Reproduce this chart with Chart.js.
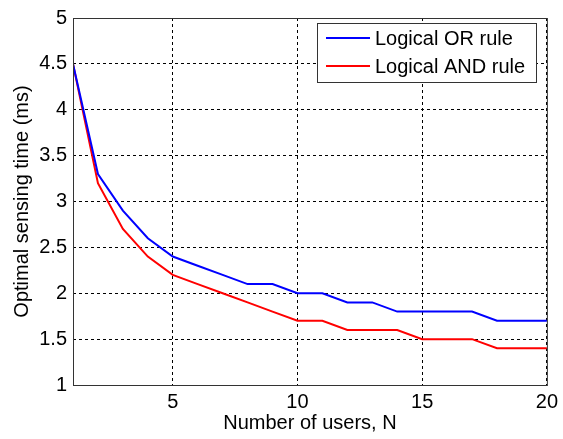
<!DOCTYPE html>
<html>
<head>
<meta charset="utf-8">
<script src="https://cdn.jsdelivr.net/npm/chart.js@4/dist/chart.umd.min.js"></script>
<style>
  html, body { margin: 0; padding: 0; background: #fff; }
  #wrap { width: 563px; height: 439px; }
</style>
</head>
<body>
<div id="wrap"><canvas id="sensing-chart" width="563" height="439"></canvas></div>
<script>
// Optimal sensing time vs number of users

var usersN = [1, 2, 3, 4, 5, 6, 7, 8, 9, 10, 11, 12, 13, 14, 15, 16, 17, 18, 19, 20];
var orRuleTime = [4.5, 3.3, 2.9, 2.6, 2.4, 2.3, 2.2, 2.1, 2.1, 2.0, 2.0, 1.9, 1.9, 1.8, 1.8, 1.8, 1.8, 1.7, 1.7, 1.7];
var andRuleTime = [4.5, 3.2, 2.7, 2.4, 2.2, 2.1, 2.0, 1.9, 1.8, 1.7, 1.7, 1.6, 1.6, 1.6, 1.5, 1.5, 1.5, 1.4, 1.4, 1.4];
var seriesLabels = ['Logical OR rule', 'Logical AND rule'];
var seriesColors = ['#0000ff', '#ff0000'];
var xTickValues = [5, 10, 15, 20];

var fontName = '"Liberation Sans", Arial, sans-serif';

function toPoints(xs, ys) {
	return xs.map(function(x, i) { return { x: x, y: ys[i] }; });
}

// frame around the plot + boxed legend in the top right corner
var frameLegend = {
	id: 'frameLegend',
	afterDraw: function(chart) {
		var ctx = chart.ctx;
		var a = chart.chartArea;
		ctx.save();
		ctx.strokeStyle = '#333';
		ctx.lineWidth = 1;
		ctx.setLineDash([]);
		ctx.strokeRect(a.left + 0.5, a.top + 0.5, a.right - a.left, a.bottom - a.top);

		var bx = 317, by = 23, bw = 219, bh = 59;
		ctx.fillStyle = '#fff';
		ctx.fillRect(bx, by, bw, bh);
		ctx.strokeRect(bx + 0.5, by + 0.5, bw, bh);
		ctx.font = '20px ' + fontName;
		ctx.textBaseline = 'middle';
		chart.data.datasets.forEach(function(ds, i) {
			var ly = by + 15 + i * 28;
			ctx.strokeStyle = ds.borderColor;
			ctx.lineWidth = 2;
			ctx.beginPath();
			ctx.moveTo(326, ly);
			ctx.lineTo(370, ly);
			ctx.stroke();
			ctx.fillStyle = '#000';
			ctx.fillText(ds.label, 375, ly + 1);
		});
		ctx.restore();
	}
};

window.addEventListener('load', function(){
	var ctx = document.getElementById('sensing-chart').getContext('2d');
	var chart = new Chart(ctx, {
		type: 'line',
		data: {
			datasets: [
				{
					label: seriesLabels[0],
					data: toPoints(usersN, orRuleTime),
					borderColor: seriesColors[0],
					borderWidth: 2,
					pointRadius: 0,
					tension: 0,
				},
				{
					label: seriesLabels[1],
					data: toPoints(usersN, andRuleTime),
					borderColor: seriesColors[1],
					borderWidth: 2,
					pointRadius: 0,
					tension: 0,
				}
			]
		},
		options: {
			responsive: false,
			maintainAspectRatio: false,
			animation: false,
			layout: {
				padding: { top: 16, right: 16, left: 0, bottom: 0 }
			},
			plugins: {
				legend: { display: false },
				tooltip: { enabled: false }
			},
			scales: {
				x: {
					type: 'linear',
					min: 1,
					max: 20,
					afterBuildTicks: function(scale) {
						scale.ticks = xTickValues.map(function(v) { return { value: v }; });
					},
					afterFit: function(scale) { scale.height = 54; },
					grid: { color: '#000', lineWidth: 1, drawTicks: false },
					border: { display: false, dash: [3, 3] },
					ticks: {
						color: '#000',
						padding: 5,
						maxRotation: 0,
						font: { family: fontName, size: 20 }
					},
					title: {
						display: true,
						text: 'Number of users, N',
						color: '#000',
						padding: { top: 0, bottom: 4 },
						font: { family: fontName, size: 20 }
					}
				},
				y: {
					min: 1,
					max: 5,
					afterFit: function(scale) { scale.width = 73; },
					grid: { color: '#000', lineWidth: 1, drawTicks: false },
					border: { display: false, dash: [3, 3] },
					ticks: {
						stepSize: 0.5,
						color: '#000',
						padding: 6,
						font: { family: fontName, size: 20 },
						callback: function(v) { return v; }
					},
					title: {
						display: true,
						text: 'Optimal sensing time (ms)',
						color: '#000',
						padding: { top: 10, bottom: 0 },
						font: { family: fontName, size: 20 }
					}
				}
			}
		},
		plugins: [frameLegend]
	});
});
</script>
</body>
</html>
